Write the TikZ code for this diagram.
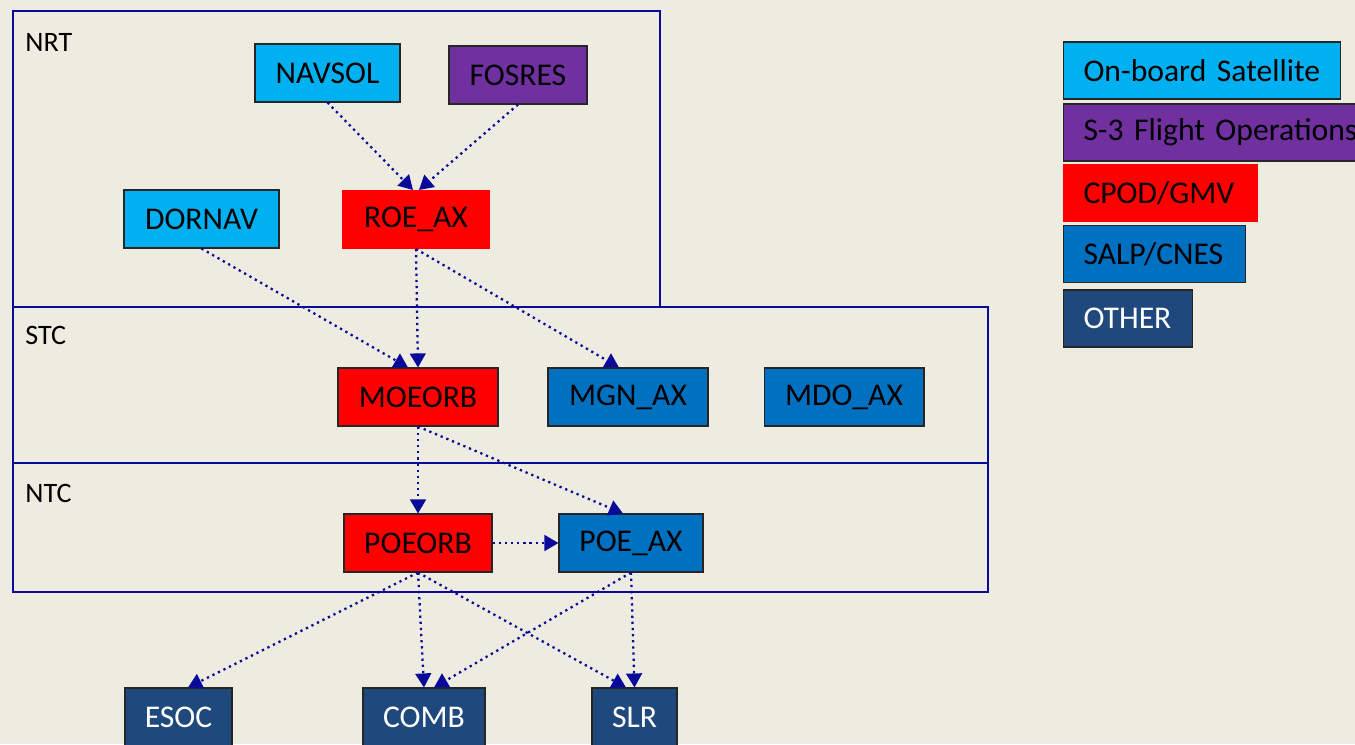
\documentclass[tikz,border=0pt]{standalone}
\usepackage{fontspec}
\setmainfont{Carlito}
\usetikzlibrary{arrows.meta}
\definecolor{bgbeige}{HTML}{EEECE1}
\definecolor{satblue}{HTML}{00B0F0}
\definecolor{fospurple}{HTML}{7030A0}
\definecolor{gmvred}{HTML}{FF0000}
\definecolor{cnesblue}{HTML}{0070C0}
\definecolor{othernavy}{HTML}{1F497D}
\definecolor{linkblue}{HTML}{0A0A9A}
\begin{document}
\begin{tikzpicture}[x=0.02cm,y=-0.02cm]
\tikzset{
    box/.style={draw=black!85, line width=0.6pt, minimum height=1.16cm, inner sep=0pt, font=\fontsize{18}{21}\selectfont},
    sat/.style={box, fill=satblue},
    fos/.style={box, fill=fospurple},
    gmv/.style={box, fill=gmvred},
    cnes/.style={box, fill=cnesblue},
    other/.style={box, fill=othernavy, text=white},
    legend/.style={anchor=west, inner xsep=0.4cm, minimum height=1.14cm, align=left},
    layer/.style={draw=linkblue, line width=1pt},
    layer label/.style={anchor=west, inner sep=0pt, font=\fontsize{16}{19}\selectfont},
    link/.style={draw=linkblue, line width=1.3pt, dash pattern=on 1.3pt off 2.2pt, -{Triangle[width=9pt,length=8pt]}}}

\clip (0,0) rectangle (1355,744);
\fill[bgbeige] (0,0) rectangle (1355,744);

% processing layers
\draw[layer] (13,11) rectangle (660,307);
\draw[layer] (13,307) rectangle (988,463);
\draw[layer] (13,463) rectangle (988,592);
\node[layer label] (nrt) at (25,42) {NRT};
\node[layer label] (stc) at (25,335) {STC};
\node[layer label] (ntc) at (25,493) {NTC};

% products
\node[sat, minimum width=2.9cm] (navsol) at (327.5,73) {NAVSOL};
\node[fos, minimum width=2.76cm] (fosres) at (518,75) {FOSRES};
\node[sat, minimum width=3.1cm] (dornav) at (201.5,219) {DORNAV};
\node[gmv, draw=gmvred, minimum width=2.92cm] (roeax) at (416,219.5) {ROE\_AX};
\node[gmv, minimum width=3.2cm] (moeorb) at (418,397) {MOEORB};
\node[cnes, minimum width=3.2cm] (mgnax) at (628,397) {MGN\_AX};
\node[cnes, minimum width=3.2cm] (mdoax) at (844,397) {MDO\_AX};
\node[gmv, minimum width=2.96cm] (poeorb) at (418,543) {POEORB};
\node[cnes, minimum width=2.88cm] (poeax) at (631,543) {POE\_AX};
\node[other, minimum width=2.14cm] (esoc) at (178.5,717) {ESOC};
\node[other, minimum width=2.44cm] (comb) at (424,717) {COMB};
\node[other, minimum width=1.7cm] (slr) at (634.5,717) {SLR};

% legend
\node[sat, legend, text width=4.74cm] (legsat) at (1063,70.5) {On-board Satellite};
\node[fos, legend, text width=5.6cm] (legfos) at (1063,132.5) {S-3 Flight Operations};
\node[gmv, legend, draw=gmvred, text width=3.08cm] (leggmv) at (1063,193) {CPOD/GMV};
\node[cnes, legend, text width=2.84cm] (legcnes) at (1063,254) {SALP/CNES};
\node[other, legend, text width=1.78cm] (legother) at (1063,318.5) {OTHER};

% flows
\draw[link] (navsol.south) -- ([xshift=-0.06cm]roeax.north);
\draw[link] (fosres.south) -- ([xshift=0.06cm]roeax.north);
\draw[link] (dornav.south) -- ([xshift=-0.2cm]moeorb.north);
\draw[link] (roeax.south) -- (moeorb.north);
\draw[link] (roeax.south) -- ([xshift=-0.18cm]mgnax.north);
\draw[link] (moeorb.south) -- (poeorb.north);
\draw[link] (moeorb.south) -- ([xshift=-0.16cm]poeax.north);
\draw[link] (poeorb.east) -- (poeax.west);
\draw[link] (poeorb.south) -- ([xshift=0.19cm]esoc.north);
\draw[link] (poeorb.south) -- (comb.north);
\draw[link] (poeorb.south) -- ([xshift=-0.17cm]slr.north);
\draw[link] (poeax.south) -- ([xshift=0.2cm]comb.north);
\draw[link] (poeax.south) -- (slr.north);

\end{tikzpicture}
\end{document}
